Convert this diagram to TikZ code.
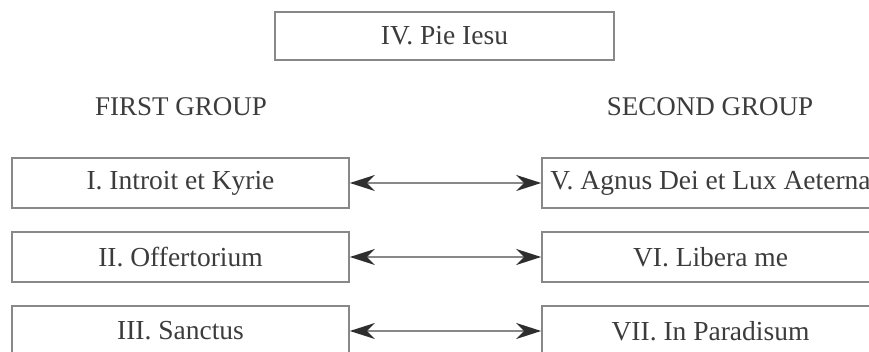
\documentclass[tikz,border=0pt]{standalone}
\usepackage{fontspec}
\setmainfont{Liberation Serif}
\usetikzlibrary{arrows.meta}
\definecolor{boxline}{HTML}{888888}
\definecolor{txt}{HTML}{3C3C3C}
\definecolor{tipc}{HTML}{2E2E2E}
\tikzset{
  mvt/.style={draw=boxline, line width=1.7pt, fill=white, minimum width=337pt, minimum height=50pt, inner sep=0pt, text=txt, font=\fontsize{27.5}{30}\selectfont},
  grouplabel/.style={text=txt, font=\fontsize{27}{30}\selectfont, inner sep=0pt},
  pair/.style={draw=boxline, line width=1.5pt, {Stealth[length=25pt,width=16pt,inset=8pt,color=tipc]}-{Stealth[length=25pt,width=16pt,inset=8pt,color=tipc]}}
}
\begin{document}
\begin{tikzpicture}[x=1pt,y=1pt]
\useasboundingbox (0,0) rectangle (869,352);
\fill[white] (0,0) rectangle (869,352);
\clip (0,0) rectangle (869,352);
\node[mvt, minimum width=339pt, minimum height=48pt] (iv) at (444.5,316) {IV. Pie Iesu};
\node[grouplabel] (g1) at (181,245) {FIRST GROUP};
\node[grouplabel] (g2) at (710,245) {SECOND GROUP};
\node[mvt] (i) at (180.5,169) {I. Introit et Kyrie};
\node[mvt] (ii) at (180.5,95) {II. Offertorium};
\node[mvt] (iii) at (180.5,21) {III. Sanctus};
\node[mvt] (v) at (710.5,169) {V. Agnus Dei et Lux Aeterna};
\node[mvt] (vi) at (710.5,95) {VI. Libera me};
\node[mvt] (vii) at (710.5,21) {VII. In Paradisum};
\draw[pair] (i.east) -- (v.west);
\draw[pair] (ii.east) -- (vi.west);
\draw[pair] (iii.east) -- (vii.west);
\end{tikzpicture}
\end{document}
